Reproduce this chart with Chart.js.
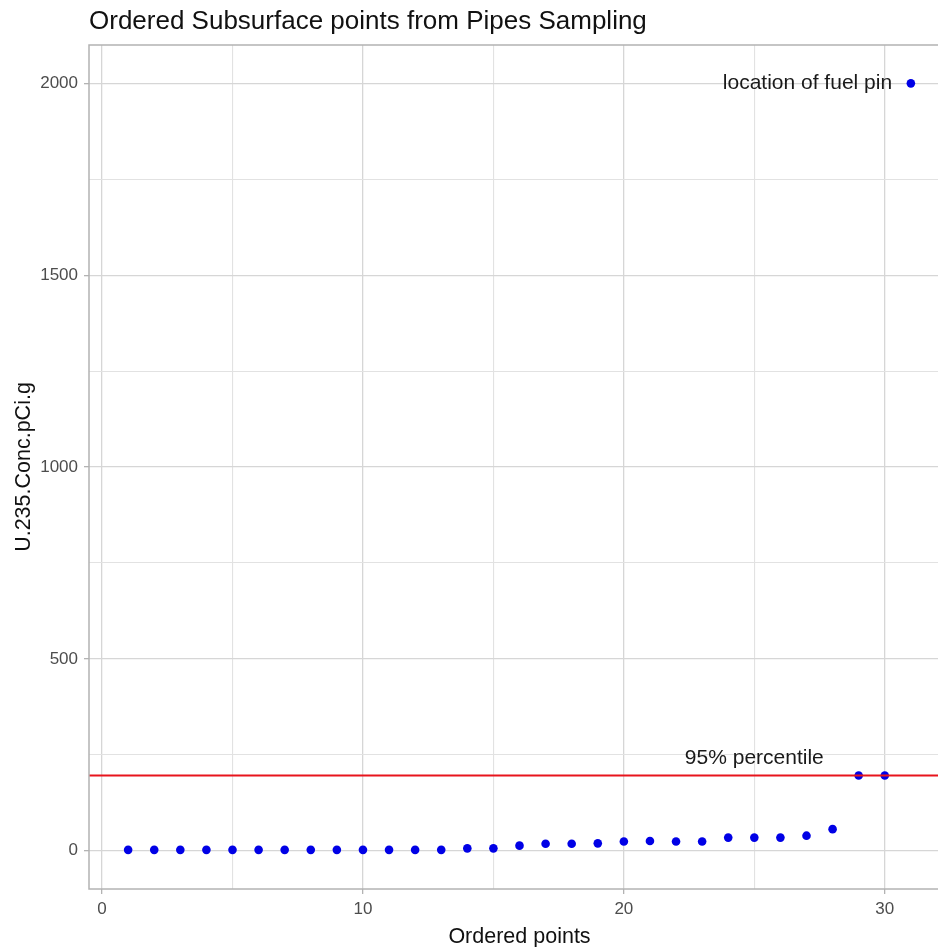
<!DOCTYPE html>
<html>
<head>
<meta charset="utf-8">
<script src="https://cdn.jsdelivr.net/npm/chart.js@4.4.1/dist/chart.umd.min.js"></script>
<style>
html,body{margin:0;padding:0;background:#fff;overflow:hidden;width:938px;height:947px;}
canvas{display:block;}
</style>
</head>
<body>
<canvas id="c" width="960" height="947"></canvas>
<script>
// ---- data ----
const orderIdx = [1,2,3,4,5,6,7,8,9,10,11,12,13,14,15,16,17,18,19,20,21,22,23,24,25,26,27,28,29,30,31];
const concValues = [2,2,2,2,2,2,2,2,2,2,2,2,2,6,6,13,18,18,19,24,25,24,24,34,34,34,39,56,196,196,2000];
const percentileValue = 196;
const xTickValues = [0,5,10,15,20,25,30];
const xLabelValues = [0,10,20,30];
const yTickValues = [0,250,500,750,1000,1250,1500,1750,2000];
const yLabelValues = [0,500,1000,1500,2000];
const titleText = 'Ordered Subsurface points from Pipes Sampling';
const xTitle = 'Ordered points';
const yTitle = 'U.235.Conc.pCi.g';
const annotations = [
  {text:'95% percentile', x:25, y:240, align:'center'},
  {text:'location of fuel pin', x:30.28, y:2000, align:'right'}
];

const FONT = '"Liberation Sans", Arial, sans-serif';
const points = orderIdx.map((x,i)=>({x:x, y:concValues[i]}));

const deco = {
  id:'deco',
  beforeDraw(chart){
    const ctx = chart.ctx;
    ctx.save();
    ctx.fillStyle = '#fff';
    ctx.fillRect(0,0,chart.width,chart.height);
    ctx.restore();
  },
  afterDraw(chart){
    const ctx = chart.ctx, a = chart.chartArea;
    const xs = chart.scales.x, ys = chart.scales.y;
    ctx.save();
    // panel border
    ctx.strokeStyle = '#b3b3b3';
    ctx.lineWidth = 1.5;
    ctx.strokeRect(a.left, a.top, a.right - a.left, a.bottom - a.top);
    // annotations
    ctx.fillStyle = '#1a1a1a';
    ctx.font = '21px ' + FONT;
    ctx.textBaseline = 'middle';
    annotations.forEach(an=>{
      ctx.textAlign = an.align;
      ctx.fillText(an.text, xs.getPixelForValue(an.x), ys.getPixelForValue(an.y));
    });
    // title
    ctx.fillStyle = '#111';
    ctx.font = '26px ' + FONT;
    ctx.textAlign = 'left';
    ctx.fillText(titleText, a.left, 22);
    // x title
    ctx.font = '21.5px ' + FONT;
    ctx.textAlign = 'center';
    ctx.fillText(xTitle, (a.left + a.right)/2, 937);
    // y title
    ctx.translate(24, (a.top + a.bottom)/2);
    ctx.rotate(-Math.PI/2);
    ctx.fillText(yTitle, 0, 0);
    ctx.restore();
  }
};

new Chart(document.getElementById('c'), {
  data:{
    datasets:[
      {type:'line', data:[{x:-0.5,y:percentileValue},{x:32.5,y:percentileValue}],
       borderColor:'#e8141c', borderWidth:2, pointRadius:0, order:0},
      {type:'scatter', data:points, backgroundColor:'#0000e6', borderWidth:0,
       pointRadius:4.3, pointHoverRadius:4.3, order:1}
    ]
  },
  options:{
    responsive:false,
    devicePixelRatio:1,
    animation:false,
    layout:{padding:{top:45, right:10, left:0, bottom:0}},
    plugins:{legend:{display:false}, tooltip:{enabled:false}, title:{display:false}},
    scales:{
      x:{
        type:'linear', min:-0.5, max:32.5,
        afterBuildTicks(s){ s.ticks = xTickValues.map(v=>({value:v})); },
        afterFit(s){ s.height = 58; },
        border:{display:false},
        grid:{
          color:c=> xLabelValues.includes(c.tick.value) ? '#d6d6d6' : '#e2e2e2',
          lineWidth:c=> xLabelValues.includes(c.tick.value) ? 1.3 : 1.1,
          tickColor:c=> xLabelValues.includes(c.tick.value) ? '#b3b3b3' : 'rgba(0,0,0,0)',
          tickLength:5, drawTicks:true
        },
        ticks:{
          autoSkip:false, maxRotation:0, padding:5,
          color:'#4d4d4d', font:{family:FONT, size:17},
          callback:v=> xLabelValues.includes(v) ? String(v) : ''
        }
      },
      y:{
        type:'linear', min:-100, max:2100,
        afterBuildTicks(s){ s.ticks = yTickValues.map(v=>({value:v})); },
        afterFit(s){ s.width = 89; },
        border:{display:false},
        grid:{
          color:c=> yLabelValues.includes(c.tick.value) ? '#d6d6d6' : '#e2e2e2',
          lineWidth:c=> yLabelValues.includes(c.tick.value) ? 1.3 : 1.1,
          tickColor:c=> yLabelValues.includes(c.tick.value) ? '#b3b3b3' : 'rgba(0,0,0,0)',
          tickLength:5, drawTicks:true
        },
        ticks:{
          autoSkip:false, padding:6,
          color:'#4d4d4d', font:{family:FONT, size:17},
          callback:v=> yLabelValues.includes(v) ? String(v) : ''
        }
      }
    }
  },
  plugins:[deco]
});
</script>
</body>
</html>
